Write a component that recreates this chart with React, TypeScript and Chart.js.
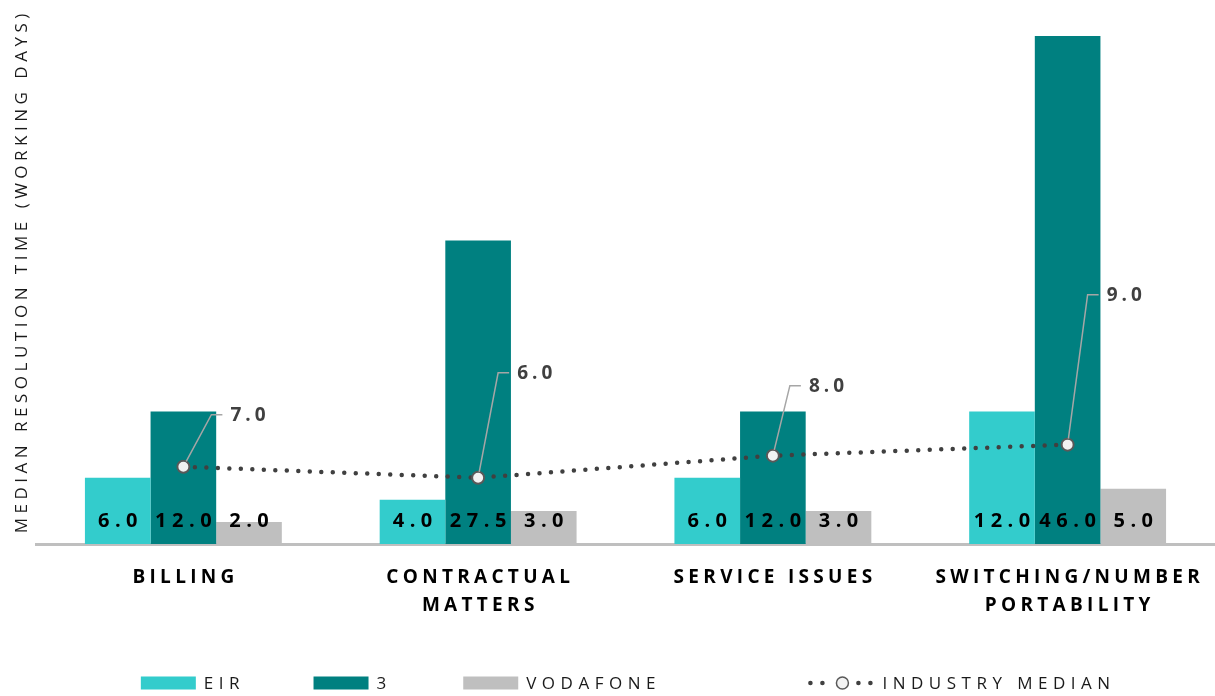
import React, { useEffect, useRef } from "react";
import { Chart, registerables } from "chart.js";

Chart.register(...registerables);

// ---- Data ----
const categories: string[][] = [
  ["BILLING"],
  ["CONTRACTUAL", "MATTERS"],
  ["SERVICE ISSUES"],
  ["SWITCHING/NUMBER", "PORTABILITY"],
];
const eirValues = [6, 4, 6, 12];
const threeValues = [12, 27.5, 12, 46];
const vodafoneValues = [2, 3, 3, 5];
const medianValues = [7, 6, 8, 9];
const seriesNames = ["EIR", "3", "VODAFONE", "INDUSTRY MEDIAN"];
const yAxisTitle = "MEDIAN RESOLUTION TIME (WORKING DAYS)";

// ---- Styling ----
const COLORS = { eir: "#33CCCC", three: "#008080", vodafone: "#BFBFBF", line: "#404040" };
const FONT = '"Open Sans", "DejaVu Sans", sans-serif';
// label offsets (px) of the industry median call-outs relative to their point
const medianLabelOffsets = [
  { dx: 47, dy: -52 },
  { dx: 39, dy: -105 },
  { dx: 36, dy: -70 },
  { dx: 39, dy: -150 },
];
// legend spacing after each entry's text (px)
const legendGaps = [74, 77, 155];

function spacedWidth(ctx: CanvasRenderingContext2D, text: string, spacing: number) {
  let w = 0;
  for (const ch of text) w += ctx.measureText(ch).width + spacing;
  return w - spacing;
}

function drawSpaced(
  ctx: CanvasRenderingContext2D,
  text: string,
  x: number,
  y: number,
  spacing: number,
  align: "left" | "center" | "right" = "left"
) {
  const w = spacedWidth(ctx, text, spacing);
  let cx = align === "center" ? x - w / 2 : align === "right" ? x - w : x;
  ctx.textAlign = "left";
  for (const ch of text) {
    ctx.fillText(ch, cx, y);
    cx += ctx.measureText(ch).width + spacing;
  }
}

const annotatePlugin = {
  id: "annotate",
  afterDatasetsDraw(chart: any) {
    const ctx: CanvasRenderingContext2D = chart.ctx;
    ctx.save();
    // bar value labels, inside base
    ctx.font = `bold 20px ${FONT}`;
    ctx.fillStyle = "#000000";
    ctx.textBaseline = "middle";
    for (let d = 0; d < 3; d++) {
      const meta = chart.getDatasetMeta(d);
      const vals = chart.data.datasets[d].data as number[];
      meta.data.forEach((bar: any, i: number) => {
        drawSpaced(ctx, vals[i].toFixed(1), bar.x, bar.base - 23, 5.5, "center");
      });
    }
    // industry median call-outs
    const lm = chart.getDatasetMeta(3);
    const lv = chart.data.datasets[3].data as number[];
    lm.data.forEach((pt: any, i: number) => {
      const off = medianLabelOffsets[i];
      const lx = pt.x + off.dx;
      const ly = pt.y + off.dy;
      const cx = lx - 19;
      const ang = Math.atan2(ly - pt.y, cx - pt.x);
      ctx.beginPath();
      ctx.strokeStyle = "#A6A6A6";
      ctx.lineWidth = 1.5;
      ctx.moveTo(pt.x + Math.cos(ang) * 6, pt.y + Math.sin(ang) * 6);
      ctx.lineTo(cx, ly);
      ctx.lineTo(lx - 8, ly);
      ctx.stroke();
      ctx.font = `bold 19px ${FONT}`;
      ctx.fillStyle = "#404040";
      ctx.textBaseline = "middle";
      drawSpaced(ctx, lv[i].toFixed(1), lx, ly + 1, 4, "left");
    });
    ctx.restore();
  },
  afterDraw(chart: any) {
    const ctx: CanvasRenderingContext2D = chart.ctx;
    const area = chart.chartArea;
    const xs = chart.scales.x;
    ctx.save();
    // x category labels
    ctx.font = `bold 19px ${FONT}`;
    ctx.fillStyle = "#000000";
    ctx.textBaseline = "middle";
    categories.forEach((lines, i) => {
      const x = xs.getPixelForTick(i);
      lines.forEach((ln, j) => {
        drawSpaced(ctx, ln, x, area.bottom + 34 + j * 28, 4.3, "center");
      });
    });
    // y axis title
    ctx.save();
    ctx.translate(22, (area.top + area.bottom) / 2);
    ctx.rotate(-Math.PI / 2);
    ctx.font = `17px ${FONT}`;
    ctx.fillStyle = "#1A1A1A";
    ctx.textBaseline = "middle";
    drawSpaced(ctx, yAxisTitle, 0, 0, 4.5, "center");
    ctx.restore();

    // legend
    ctx.font = `17px ${FONT}`;
    ctx.textBaseline = "middle";
    const symGap = 8;
    const sp = 5.5;
    const ds = chart.data.datasets;
    const symW = ds.map((d: any) => (d.type === "line" ? 64 : 55));
    const widths = ds.map((d: any, i: number) => symW[i] + symGap + spacedWidth(ctx, d.label, sp));
    const total =
      widths.reduce((a: number, b: number) => a + b, 0) + legendGaps.reduce((a, b) => a + b, 0);
    let x = (area.left + area.right) / 2 - total / 2;
    const y = 683;
    ds.forEach((d: any, i: number) => {
      if (d.type === "line") {
        ctx.fillStyle = d.borderColor;
        const c = x + 32;
        [-32, -20, 16, 28].forEach((o) => {
          ctx.beginPath();
          ctx.arc(c + o, y, 2.3, 0, Math.PI * 2);
          ctx.fill();
        });
        ctx.beginPath();
        ctx.arc(c, y, 6, 0, Math.PI * 2);
        ctx.fillStyle = d.pointBackgroundColor;
        ctx.fill();
        ctx.lineWidth = 1.5;
        ctx.strokeStyle = d.pointBorderColor;
        ctx.stroke();
      } else {
        ctx.fillStyle = d.backgroundColor;
        ctx.fillRect(x, y - 6.5, symW[i], 13);
      }
      ctx.fillStyle = "#1A1A1A";
      drawSpaced(ctx, d.label, x + symW[i] + symGap, y + 1, sp, "left");
      x += widths[i] + (legendGaps[i] || 0);
    });
    ctx.restore();
  },
};

export default function App() {
  const ref = useRef<HTMLCanvasElement>(null);
  useEffect(() => {
    if (!ref.current) return;
    const chart = new Chart(ref.current, {
      type: "bar",
      data: {
        labels: categories,
        datasets: [
          {
            type: "bar",
            label: seriesNames[0],
            data: eirValues,
            backgroundColor: COLORS.eir,
            order: 1,
            categoryPercentage: 0.668,
            barPercentage: 1,
          },
          {
            type: "bar",
            label: seriesNames[1],
            data: threeValues,
            backgroundColor: COLORS.three,
            order: 1,
            categoryPercentage: 0.668,
            barPercentage: 1,
          },
          {
            type: "bar",
            label: seriesNames[2],
            data: vodafoneValues,
            backgroundColor: COLORS.vodafone,
            order: 1,
            categoryPercentage: 0.668,
            barPercentage: 1,
          },
          {
            type: "line",
            label: seriesNames[3],
            data: medianValues,
            borderColor: COLORS.line,
            borderWidth: 4.5,
            borderDash: [0, 11.5],
            borderCapStyle: "round",
            tension: 0,
            fill: false,
            pointRadius: 6,
            pointBackgroundColor: "#F2F2F2",
            pointBorderColor: "#595959",
            pointBorderWidth: 2,
            order: 0,
          } as any,
        ],
      },
      options: {
        responsive: false,
        animation: false,
        devicePixelRatio: 1,
        layout: { autoPadding: false, padding: { left: 36, right: 0, top: 3, bottom: 152 } },
        plugins: { legend: { display: false }, tooltip: { enabled: false } },
        scales: {
          x: {
            display: true,
            ticks: { display: false },
            grid: { display: false, drawTicks: false },
            border: { display: true, color: "#BFBFBF", width: 3 },
          },
          y: {
            display: false,
            min: 0,
            max: 49,
          },
        },
      },
      plugins: [annotatePlugin],
    } as any);
    return () => chart.destroy();
  }, []);
  return (
    <div style={{ position: "absolute", left: 0, top: 0, width: 1215, height: 696, background: "#FFFFFF" }}>
      <canvas ref={ref} width={1215} height={696} style={{ display: "block" }} />
    </div>
  );
}
